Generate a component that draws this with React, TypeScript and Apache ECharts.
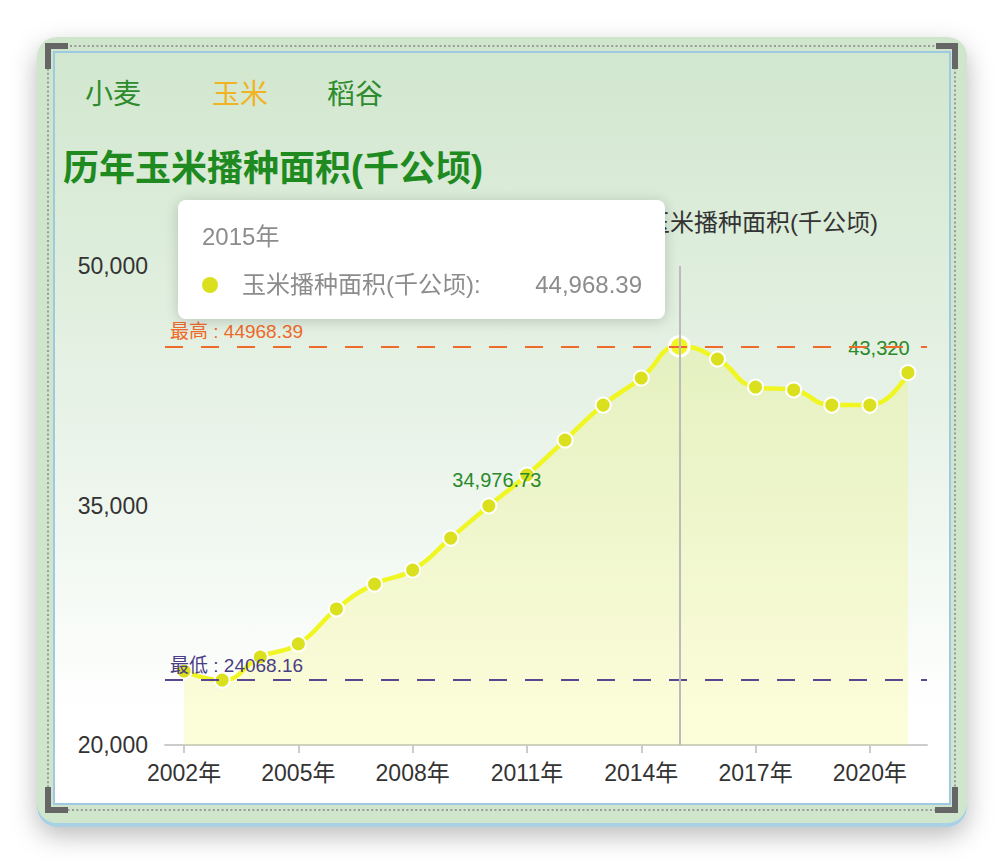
import React, { useEffect, useRef } from 'react';
import * as echarts from 'echarts';

const FONT = '"Liberation Sans", "Noto Sans CJK SC", sans-serif';

const tabs = ['小麦', '玉米', '稻谷'];
const activeTab = '玉米';
const chartTitle = '历年玉米播种面积(千公顷)';
const seriesName = '玉米播种面积(千公顷)';

const years = [
  '2002年', '2003年', '2004年', '2005年', '2006年', '2007年', '2008年', '2009年', '2010年', '2011年',
  '2012年', '2013年', '2014年', '2015年', '2016年', '2017年', '2018年', '2019年', '2020年', '2021年',
];
const cornArea = [
  24634, 24068.16, 25510, 26330, 28520, 30080, 30960, 32960, 34976.73, 36910,
  39100, 41290, 42985, 44968.39, 44175, 42420, 42235, 41290, 41290, 43320,
];
const labeledYears = ['2010年', '2021年'];
const tooltipYear = '2015年';

const yMin = 20000;
const yMax = 50000;
const yStep = 15000;

const fmt = (v: number) => v.toLocaleString('en-US');

export default function App() {
  const ref = useRef<HTMLDivElement>(null);

  useEffect(() => {
    if (!ref.current) return;
    const chart = echarts.init(ref.current, undefined, { renderer: 'svg' });

    const tabX = [113, 240, 355];
    const lineColor = '#dbe01e';
    const labelOffsets: Record<string, number[]> = { '2010年': [8, -2], '2021年': [-29, -1] };

    const seriesData = cornArea.map((v, i) => {
      const name = years[i];
      if (labeledYears.includes(name)) {
        return {
          value: v,
          label: {
            show: true,
            position: 'top',
            offset: labelOffsets[name],
            color: '#2a8a2a',
            fontSize: 20,
            fontFamily: FONT,
            formatter: (p: any) => fmt(p.value),
          },
        };
      }
      return v;
    });

    const bracket = (points: number[][]) => ({
      type: 'polyline',
      z: -8,
      silent: true,
      shape: { points },
      style: { stroke: '#666666', lineWidth: 6, fill: 'none', lineJoin: 'miter', lineCap: 'butt' },
    });

    const option: any = {
      animation: false,
      textStyle: { fontFamily: FONT },
      title: {
        text: chartTitle,
        left: 63,
        top: 150,
        padding: 0,
        textStyle: { fontSize: 36, fontWeight: 'bold', color: '#1f8a1f', fontFamily: FONT },
      },
      legend: {
        data: [seriesName],
        right: 126,
        top: 210,
        padding: 0,
        selectedMode: false,
        itemWidth: 25,
        itemHeight: 14,
        textStyle: { fontSize: 24, color: '#333', fontFamily: FONT },
      },
      grid: { left: 165, right: 77, top: 266, bottom: 119, containLabel: false },
      tooltip: {
        trigger: 'axis',
        alwaysShowContent: true,
        transitionDuration: 0,
        position: [178, 200],
        backgroundColor: '#ffffff',
        borderWidth: 0,
        borderRadius: 8,
        padding: [21, 23, 18, 24],
        extraCssText: 'box-shadow:0 2px 14px rgba(0,0,0,0.18);width:487px;box-sizing:border-box;',
        axisPointer: { type: 'line', lineStyle: { color: '#bbbbbb', width: 2, type: 'solid' }, label: { show: false } },
        formatter: (params: any) => {
          const p = Array.isArray(params) ? params[0] : params;
          const style = `font-family:${FONT.replace(/"/g, "'")};font-size:24px;color:#8c8c8c;line-height:32px;`;
          return (
            `<div style="${style}">${p.name}</div>` +
            `<div style="${style}display:flex;align-items:center;margin-top:16px;">` +
            `<span style="display:inline-block;width:16px;height:16px;border-radius:8px;background:${lineColor};margin-right:24px;"></span>` +
            `<span>${p.seriesName}:</span>` +
            `<span style="margin-left:auto;">${fmt(p.value)}</span></div>`
          );
        },
      },
      xAxis: {
        type: 'category',
        data: years,
        boundaryGap: true,
        axisLine: { show: true, lineStyle: { color: '#cccccc', width: 2 } },
        axisTick: { show: true, alignWithLabel: true, interval: 2, length: 8, lineStyle: { color: '#cccccc', width: 2 } },
        axisLabel: { interval: 2, color: '#333', fontSize: 23, margin: 16, fontFamily: FONT },
        splitLine: { show: false },
      },
      yAxis: {
        type: 'value',
        min: yMin,
        max: yMax,
        interval: yStep,
        axisLine: { show: false },
        axisTick: { show: false },
        splitLine: { show: false },
        axisLabel: { color: '#333', fontSize: 23, margin: 17, fontFamily: FONT, formatter: (v: number) => fmt(v) },
      },
      series: [
        {
          name: seriesName,
          type: 'line',
          data: seriesData,
          smooth: true,
          symbol: 'circle',
          symbolSize: 15,
          showAllSymbol: true,
          lineStyle: { color: lineColor, width: 4.5 },
          itemStyle: { color: lineColor, borderColor: '#ffffff', borderWidth: 2 },
          areaStyle: { color: 'rgba(218,224,40,0.26)' },
          emphasis: { scale: 1.3, itemStyle: { borderWidth: 3, borderColor: '#ffffff' } },
          markLine: {
            symbol: 'none',
            silent: true,
            data: [
              {
                type: 'max',
                name: '最高',
                lineStyle: { color: '#ef6a2b', width: 2, type: [18, 18] },
                label: { color: '#ef6a2b' },
              },
              {
                type: 'min',
                name: '最低',
                lineStyle: { color: '#5a4790', width: 2, type: [18, 18] },
                label: { color: '#4a3d85' },
              },
            ],
            label: {
              position: 'insideStartTop',
              formatter: '{b} : {c}',
              fontSize: 19,
              fontFamily: FONT,
              distance: 5,
            },
          },
        },
      ],
      graphic: {
        elements: [
          {
            type: 'rect',
            z: -12,
            silent: true,
            shape: { x: 37, y: 39, width: 930, height: 788, r: 20 },
            style: { fill: '#a9d0e4', shadowBlur: 26, shadowColor: 'rgba(0,0,0,0.28)', shadowOffsetY: 8 },
          },
          {
            type: 'rect',
            z: -11,
            silent: true,
            shape: { x: 37, y: 37, width: 930, height: 786, r: 20 },
            style: { fill: '#cfe6cd' },
          },
          {
            type: 'rect',
            z: -10,
            silent: true,
            shape: { x: 48, y: 46, width: 907, height: 764 },
            style: { fill: 'none', stroke: '#9a9a9a', lineWidth: 2, lineDash: [2, 2.4] },
          },
          {
            type: 'rect',
            z: -9,
            silent: true,
            shape: { x: 54, y: 52, width: 896, height: 752 },
            style: {
              fill: new echarts.graphic.LinearGradient(0, 0, 0, 1, [
                { offset: 0, color: '#d2e7cf' },
                { offset: 0.3, color: '#dfeedd' },
                { offset: 0.6, color: '#eef6ee' },
                { offset: 0.88, color: '#ffffff' },
                { offset: 1, color: '#ffffff' },
              ]),
              stroke: '#9fc9e2',
              lineWidth: 2,
            },
          },
          bracket([[48, 69], [48, 46], [68, 46]]),
          bracket([[936, 46], [955, 46], [955, 69]]),
          bracket([[935, 810], [955, 810], [955, 787]]),
          bracket([[48, 787], [48, 810], [68, 810]]),
          ...tabs.map((t, i) => ({
            type: 'text',
            z: 5,
            x: tabX[i],
            y: 94,
            style: {
              text: t,
              fontSize: 28,
              fontFamily: FONT,
              fill: t === activeTab ? '#f0b324' : '#2e8b2e',
              align: 'center',
              verticalAlign: 'middle',
            },
          })),
        ],
      },
    };

    chart.setOption(option);
    const idx = years.indexOf(tooltipYear);
    const show = () => chart.dispatchAction({ type: 'showTip', seriesIndex: 0, dataIndex: idx });
    show();
    const timer = setTimeout(show, 50);

    return () => {
      clearTimeout(timer);
      chart.dispose();
    };
  }, []);

  return (
    <div style={{ position: 'absolute', left: 0, top: 0, width: 1004, height: 864, background: '#ffffff' }}>
      <div ref={ref} style={{ width: 1004, height: 864 }} />
    </div>
  );
}
